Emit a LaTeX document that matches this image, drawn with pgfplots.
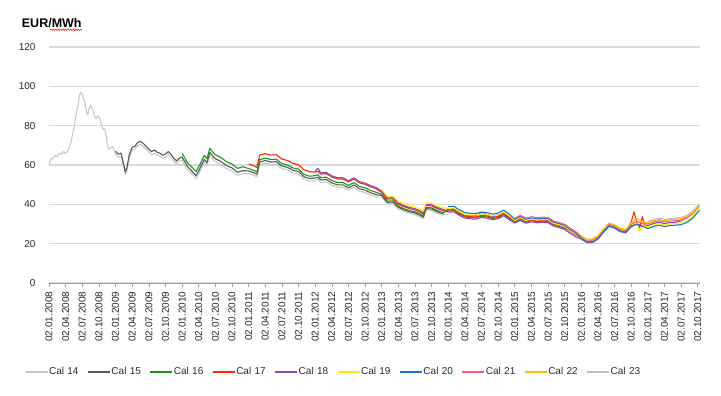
\documentclass[border=0pt]{standalone}
\usepackage{fontspec}
\setmainfont{Liberation Sans}
\usepackage{pgfplots}
\usepackage{pgfplotstable}
\pgfplotsset{compat=1.18}
\usetikzlibrary{decorations.pathmorphing}

\definecolor{cA}{RGB}{200,200,200}
\definecolor{cB}{RGB}{89,89,89}
\definecolor{cC}{RGB}{30,150,30}
\definecolor{cD}{RGB}{255,40,0}
\definecolor{cE}{RGB}{140,70,200}
\definecolor{cF}{RGB}{255,240,0}
\definecolor{cG}{RGB}{20,120,210}
\definecolor{cH}{RGB}{255,90,120}
\definecolor{cI}{RGB}{255,192,0}
\definecolor{cJ}{RGB}{190,190,190}
\definecolor{gridgray}{RGB}{217,217,217}
\definecolor{axisgray}{RGB}{160,160,160}
\definecolor{labelc}{RGB}{40,40,40}

\pgfplotstableread{
m c14 c15 c16 c17 c18 c19 c20 c21 c22 c23
0 60.0 nan nan nan nan nan nan nan nan nan
0.25 62.5 nan nan nan nan nan nan nan nan nan
0.5 63.5 nan nan nan nan nan nan nan nan nan
0.75 63.0 nan nan nan nan nan nan nan nan nan
1 65.0 nan nan nan nan nan nan nan nan nan
1.25 64.2 nan nan nan nan nan nan nan nan nan
1.5 64.5 nan nan nan nan nan nan nan nan nan
1.75 65.6 nan nan nan nan nan nan nan nan nan
2 66.0 nan nan nan nan nan nan nan nan nan
2.25 65.2 nan nan nan nan nan nan nan nan nan
2.5 66.8 nan nan nan nan nan nan nan nan nan
2.75 66.4 nan nan nan nan nan nan nan nan nan
3 66.0 nan nan nan nan nan nan nan nan nan
3.25 66.8 nan nan nan nan nan nan nan nan nan
3.5 67.5 nan nan nan nan nan nan nan nan nan
4 72.0 nan nan nan nan nan nan nan nan nan
4.5 79.0 nan nan nan nan nan nan nan nan nan
5 88.0 nan nan nan nan nan nan nan nan nan
5.25 90.5 nan nan nan nan nan nan nan nan nan
5.5 95.5 nan nan nan nan nan nan nan nan nan
5.75 97.0 nan nan nan nan nan nan nan nan nan
6 96.0 nan nan nan nan nan nan nan nan nan
6.25 93.5 nan nan nan nan nan nan nan nan nan
6.5 91.0 nan nan nan nan nan nan nan nan nan
6.75 87.5 nan nan nan nan nan nan nan nan nan
7 85.5 nan nan nan nan nan nan nan nan nan
7.25 89.0 nan nan nan nan nan nan nan nan nan
7.5 90.5 nan nan nan nan nan nan nan nan nan
7.75 88.5 nan nan nan nan nan nan nan nan nan
8 87.0 nan nan nan nan nan nan nan nan nan
8.25 84.5 nan nan nan nan nan nan nan nan nan
8.5 83.5 nan nan nan nan nan nan nan nan nan
8.75 85.0 nan nan nan nan nan nan nan nan nan
9 84.5 nan nan nan nan nan nan nan nan nan
9.25 82.5 nan nan nan nan nan nan nan nan nan
9.5 80.0 nan nan nan nan nan nan nan nan nan
9.75 78.0 nan nan nan nan nan nan nan nan nan
10 78.5 nan nan nan nan nan nan nan nan nan
10.25 75.5 nan nan nan nan nan nan nan nan nan
10.5 71.0 nan nan nan nan nan nan nan nan nan
10.75 68.0 nan nan nan nan nan nan nan nan nan
11 68.5 nan nan nan nan nan nan nan nan nan
11.5 69.3 nan nan nan nan nan nan nan nan nan
12 65.5 67.0 nan nan nan nan nan nan nan nan
12.5 64.0 65.5 nan nan nan nan nan nan nan nan
13 64.3 66.0 nan nan nan nan nan nan nan nan
13.5 58.6 60.0 nan nan nan nan nan nan nan nan
13.75 55.0 56.6 nan nan nan nan nan nan nan nan
14 56.4 58.0 nan nan nan nan nan nan nan nan
14.5 63.8 65.5 nan nan nan nan nan nan nan nan
15 67.6 69.0 nan nan nan nan nan nan nan nan
15.5 68.1 69.5 nan nan nan nan nan nan nan nan
16 69.8 71.5 nan nan nan nan nan nan nan nan
16.5 70.6 72.0 nan nan nan nan nan nan nan nan
17 69.4 71.0 nan nan nan nan nan nan nan nan
17.5 68.0 69.5 nan nan nan nan nan nan nan nan
18 66.6 68.0 nan nan nan nan nan nan nan nan
18.5 65.2 66.8 nan nan nan nan nan nan nan nan
19 66.0 67.6 nan nan nan nan nan nan nan nan
19.5 65.1 66.5 nan nan nan nan nan nan nan nan
20 64.4 66.0 nan nan nan nan nan nan nan nan
20.5 63.6 65.0 nan nan nan nan nan nan nan nan
21 63.9 65.5 nan nan nan nan nan nan nan nan
21.5 65.3 66.8 nan nan nan nan nan nan nan nan
22 64.0 65.5 nan nan nan nan nan nan nan nan
22.5 61.9 63.5 nan nan nan nan nan nan nan nan
23 60.6 62.0 nan nan nan nan nan nan nan nan
23.5 62.0 63.5 nan nan nan nan nan nan nan nan
24 62.5 64.0 66.0 nan nan nan nan nan nan nan
25 57.4 59.1 61.0 nan nan nan nan nan nan nan
26 54.9 56.2 58.3 nan nan nan nan nan nan nan
26.5 53.2 54.6 56.6 nan nan nan nan nan nan nan
27 55.5 57.0 59.0 nan nan nan nan nan nan nan
28 61.3 62.8 64.8 nan nan nan nan nan nan nan
28.5 59.7 61.2 63.2 nan nan nan nan nan nan nan
29 65.0 66.5 68.5 nan nan nan nan nan nan nan
29.5 63.1 64.6 66.6 nan nan nan nan nan nan nan
30 61.7 63.2 65.2 nan nan nan nan nan nan nan
31 60.3 61.8 63.8 nan nan nan nan nan nan nan
32 58.2 59.7 61.7 nan nan nan nan nan nan nan
33 57.0 58.5 60.5 nan nan nan nan nan nan nan
34 54.8 56.3 58.3 nan nan nan nan nan nan nan
35 55.6 57.1 59.1 nan nan nan nan nan nan nan
36 55.7 57.0 58.2 60.5 nan nan nan nan nan nan
37 54.7 56.0 57.2 59.5 nan nan nan nan nan nan
37.5 54.0 55.3 56.5 58.8 nan nan nan nan nan nan
38 60.2 61.5 62.7 65.0 nan nan nan nan nan nan
39 61.0 62.3 63.5 65.8 nan nan nan nan nan nan
40 60.2 61.5 62.7 65.0 nan nan nan nan nan nan
41 60.4 61.7 62.9 65.2 nan nan nan nan nan nan
42 58.2 59.5 60.7 63.0 nan nan nan nan nan nan
43 57.5 58.8 60.0 62.3 nan nan nan nan nan nan
44 56.0 57.3 58.5 60.8 nan nan nan nan nan nan
45 55.4 56.7 57.9 60.2 nan nan nan nan nan nan
46 52.7 54.0 55.2 57.5 nan nan nan nan nan nan
47 51.8 53.1 54.3 56.6 nan nan nan nan nan nan
48 52.2 53.4 54.6 56.4 57.0 nan nan nan nan nan
48.5 52.6 53.8 55.0 56.9 58.3 nan nan nan nan nan
49 51.2 52.4 53.6 55.4 56.0 nan nan nan nan nan
50 51.4 52.6 53.8 55.6 56.2 nan nan nan nan nan
51 49.7 50.9 52.1 53.9 54.5 nan nan nan nan nan
52 48.7 49.9 51.1 52.9 53.5 nan nan nan nan nan
53 48.7 49.9 51.1 52.9 53.5 nan nan nan nan nan
54 47.2 48.4 49.6 51.4 52.0 nan nan nan nan nan
55 48.7 49.9 51.1 52.9 53.5 nan nan nan nan nan
56 46.7 47.9 49.1 50.9 51.5 nan nan nan nan nan
57 46.0 47.2 48.4 50.2 50.8 nan nan nan nan nan
58 44.7 45.9 47.1 48.9 49.5 nan nan nan nan nan
59 43.7 44.9 46.1 47.9 48.5 nan nan nan nan nan
60 43.7 44.5 45.1 46.1 46.7 47.5 nan nan nan nan
61 40.2 41.0 41.6 42.6 43.2 44.0 nan nan nan nan
62 40.4 41.2 41.8 42.8 43.4 44.2 nan nan nan nan
63 37.7 38.5 39.1 40.1 40.7 41.5 nan nan nan nan
64 36.4 37.2 37.8 38.8 39.4 40.2 nan nan nan nan
65 35.4 36.2 36.8 37.8 38.4 39.2 nan nan nan nan
66 34.8 35.6 36.2 37.2 37.8 38.6 nan nan nan nan
67 33.5 34.3 34.9 35.9 36.5 37.3 nan nan nan nan
67.5 32.7 33.5 34.1 35.1 35.7 36.5 nan nan nan nan
68 37.0 37.8 38.4 39.4 40.0 40.8 nan nan nan nan
69 36.8 37.6 38.2 39.2 39.8 40.6 nan nan nan nan
70 35.4 36.2 36.8 37.8 38.4 39.2 nan nan nan nan
71 34.5 35.3 35.9 36.9 37.5 38.3 nan nan nan nan
72 35.0 37.6 36.6 37.1 36.0 37.9 38.8 nan nan nan
73 nan 37.8 36.8 37.3 36.2 38.1 39.0 nan nan nan
74 nan 36.0 35.0 35.5 34.4 36.3 37.2 nan nan nan
75 nan 34.6 33.6 34.1 33.0 34.9 35.8 nan nan nan
76 nan 34.2 33.2 33.7 32.6 34.5 35.4 nan nan nan
77 nan 34.3 33.3 33.6 32.5 34.6 35.3 nan nan nan
78 nan 35.8 33.9 34.4 33.3 35.2 36.1 nan nan nan
79 nan 34.8 33.6 34.1 33.0 34.9 35.8 nan nan nan
80 nan 33.8 32.8 33.3 32.2 34.1 35.0 nan nan nan
81 nan 34.3 33.3 33.8 32.7 34.6 35.5 nan nan nan
82 nan 35.8 34.8 35.3 34.2 36.1 37.0 nan nan nan
83 nan 33.8 32.8 33.3 32.2 34.1 35.0 nan nan nan
84 nan 31.8 31.0 31.4 30.4 31.8 32.4 33.0 nan nan
85 nan nan 32.4 32.8 31.8 33.2 33.8 34.4 nan nan
86 nan nan 31.0 31.4 30.4 31.8 32.4 33.0 nan nan
87 nan nan 31.7 32.1 31.1 32.5 33.1 33.7 nan nan
88 nan nan 31.2 31.6 30.6 32.0 32.6 33.2 nan nan
89 nan nan 31.5 31.9 30.9 32.3 32.9 33.5 nan nan
90 nan nan 31.3 31.7 30.7 32.1 32.7 33.3 nan nan
91 nan nan 29.5 29.9 28.9 30.3 30.9 31.5 nan nan
92 nan nan 28.8 29.2 28.2 29.6 30.2 30.8 nan nan
93 nan nan 27.8 28.2 27.2 28.6 29.2 29.8 nan nan
94 nan nan 26.6 26.2 25.2 26.6 27.2 27.8 nan nan
95 nan nan 24.8 24.5 23.5 24.9 25.5 26.1 nan nan
96 nan nan 23.2 23.2 22.3 23.1 22.7 23.6 24.0 nan
97 nan nan nan 21.4 20.5 21.3 20.9 21.8 22.2 nan
98 nan nan nan 21.5 20.6 21.4 21.0 21.9 22.3 nan
99 nan nan nan 23.2 22.3 23.1 22.7 23.6 24.0 nan
100 nan nan nan 26.7 25.8 26.6 26.2 27.1 27.5 nan
101 nan nan nan 29.7 28.8 29.6 29.2 30.1 30.5 nan
102 nan nan nan 28.8 27.9 28.7 28.3 29.2 29.6 nan
103 nan nan nan 27.0 26.1 26.9 26.5 27.4 27.8 nan
104 nan nan nan 26.6 25.5 26.3 25.9 26.8 27.2 nan
105 nan nan nan 31.0 28.6 29.4 29.0 29.9 30.5 nan
105.5 nan nan nan 36.2 nan nan nan nan nan nan
106 nan nan nan 31.0 30.0 30.5 29.8 31.3 33.0 nan
106.5 nan nan nan 28.0 nan 26.3 nan nan nan nan
107 nan nan nan 33.7 29.0 29.4 28.8 30.3 31.0 nan
107.5 nan nan nan 29.0 nan nan nan nan nan nan
108 nan nan nan 29.5 29.2 28.5 27.7 30.0 30.7 31.3
109 nan nan nan nan 30.2 29.5 28.7 31.0 31.7 32.3
110 nan nan nan nan 30.9 30.2 29.4 31.7 32.4 33.0
111 nan nan nan nan 30.2 29.5 28.7 31.0 31.7 32.3
112 nan nan nan nan 30.7 30.0 29.2 31.5 32.2 32.8
113 nan nan nan nan 30.9 30.2 29.4 31.7 32.4 33.0
114 nan nan nan nan 31.6 30.5 29.7 32.0 32.7 33.3
115 nan nan nan nan 33.6 31.5 30.7 33.0 33.7 34.3
116 nan nan nan nan 35.8 33.5 32.7 35.0 35.7 36.3
117 nan nan nan nan 38.8 37.0 36.0 38.3 38.8 39.2
117.3 nan nan nan nan 39.5 38.0 37.0 39.0 39.6 40.2
}\pricedata

\begin{document}
\begin{tikzpicture}
\useasboundingbox (-49pt,-113pt) rectangle (672pt,283pt);
\begin{axis}[
  at={(0,0)}, anchor=south west,
  scale only axis, width=651pt, height=236pt,
  xmin=0, xmax=117.4, ymin=0, ymax=120,
  axis x line*=bottom, axis y line*=left,
  y axis line style={draw=none},
  x axis line style={draw=axisgray, line width=0.8pt},
  ytick={0,20,...,120},
  ymajorgrids, grid style={draw=gridgray, line width=1.1pt},
  ytick style={draw=none},
  xtick={0,3,...,117},
  xticklabels={02.01.2008,02.04.2008,02.07.2008,02.10.2008,
    02.01.2009,02.04.2009,02.07.2009,02.10.2009,
    02.01.2010,02.04.2010,02.07.2010,02.10.2010,
    02.01.2011,02.04.2011,02.07.2011,02.10.2011,
    02.01.2012,02.04.2012,02.07.2012,02.10.2012,
    02.01.2013,02.04.2013,02.07.2013,02.10.2013,
    02.01.2014,02.04.2014,02.07.2014,02.10.2014,
    02.01.2015,02.04.2015,02.07.2015,02.10.2015,
    02.01.2016,02.04.2016,02.07.2016,02.10.2016,
    02.01.2017,02.04.2017,02.07.2017,02.10.2017},
  tick align=outside, major tick length=4pt,
  xtick style={draw=axisgray, line width=0.6pt},
  /pgf/number format/assume math mode=true,
  yticklabel style={xshift=-6pt, font=\fontsize{10}{12}\selectfont, text=labelc},
  xticklabel style={yshift=-1pt, rotate=90, anchor=east, font=\fontsize{10}{12}\selectfont, text=labelc},
  every axis plot/.append style={line width=1.1pt, line join=round},
  legend columns=10,
  legend image code/.code={\draw[#1, line width=1.1pt] (0pt,0pt) -- (22pt,0pt);},
  legend style={at={(axis description cs:-0.0369,-0.377)}, anchor=west,
    draw=none, fill=none, inner sep=0pt, outer sep=0pt, column sep=0pt,
    font=\fontsize{10}{12}\selectfont, text=labelc,
    nodes={inner xsep=1pt, inner ysep=1pt, text width=36pt, align=left},
    /tikz/every even column/.append style={column sep=1.3pt}},
]
\addplot[cA] table[x=m, y=c14] {\pricedata}; \addlegendentry{Cal 14}
\addplot[cB] table[x=m, y=c15] {\pricedata}; \addlegendentry{Cal 15}
\addplot[cC] table[x=m, y=c16] {\pricedata}; \addlegendentry{Cal 16}
\addplot[cD] table[x=m, y=c17] {\pricedata}; \addlegendentry{Cal 17}
\addplot[cE] table[x=m, y=c18] {\pricedata}; \addlegendentry{Cal 18}
\addplot[cF] table[x=m, y=c19] {\pricedata}; \addlegendentry{Cal 19}
\addplot[cG] table[x=m, y=c20] {\pricedata}; \addlegendentry{Cal 20}
\addplot[cH] table[x=m, y=c21] {\pricedata}; \addlegendentry{Cal 21}
\addplot[cI] table[x=m, y=c22] {\pricedata}; \addlegendentry{Cal 22}
\addplot[cJ] table[x=m, y=c23] {\pricedata}; \addlegendentry{Cal 23}
\end{axis}
\node[anchor=base west, inner sep=0pt, font=\bfseries\fontsize{12.5}{15}\selectfont] at (-27.3pt,255.5pt) {EUR/MWh};
\draw[red, line width=0.5pt, decorate, decoration={snake, amplitude=0.7pt, segment length=2.5pt}] (1pt,253.2pt) -- (33pt,253.2pt);
\end{tikzpicture}
\end{document}
